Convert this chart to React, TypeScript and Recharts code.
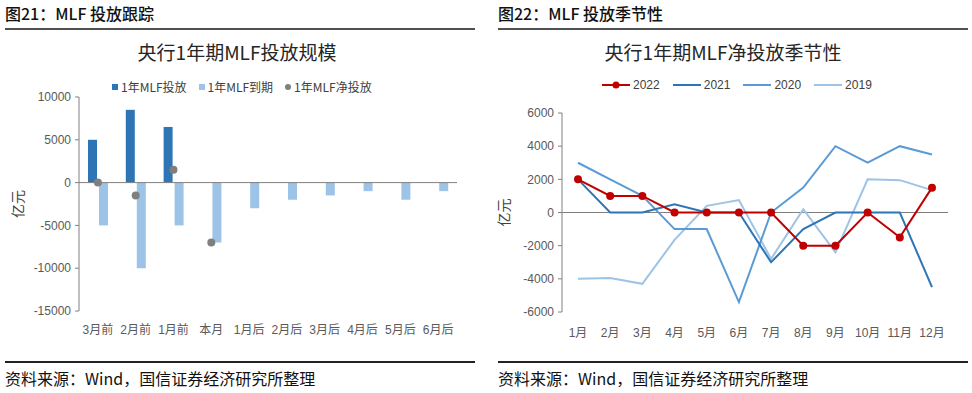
import React from "react";
import {
  ComposedChart,
  LineChart,
  Bar,
  Line,
  XAxis,
  YAxis,
  ReferenceLine,
  Label,
} from "recharts";

// left chart: MLF tracking
const trackCats = ["3月前", "2月前", "1月前", "本月", "1月后", "2月后", "3月后", "4月后", "5月后", "6月后"];
const issueVals = [5000, 8500, 6500, null, null, null, null, null, null, null];
const maturityVals = [-5000, -10000, -5000, -7000, -3000, -2000, -1500, -1000, -2000, -1000];
const netVals = [0, -1500, 1500, -7000, null, null, null, null, null, null];
const trackTicks = [10000, 5000, 0, -5000, -10000, -15000];

// right chart: seasonality
const months = ["1月", "2月", "3月", "4月", "5月", "6月", "7月", "8月", "9月", "10月", "11月", "12月"];
const net2022 = [2000, 1000, 1000, 0, 0, 0, 0, -2000, -2000, 0, -1500, 1500];
const net2021 = [2000, 0, 0, 500, 0, 0, -3000, -1000, 0, 0, 0, -4500];
const net2020 = [3000, 2000, 1000, -1000, -1000, -5400, 0, 1500, 4000, 3000, 4000, 3500];
const net2019 = [-4000, -3950, -4300, -1650, 400, 750, -2800, 200, -2400, 2000, 1950, 1350];
const seasonTicks = [6000, 4000, 2000, 0, -2000, -4000, -6000];

const FONT = "'Liberation Sans', 'Noto Sans CJK SC', sans-serif";
const CJK = "'Noto Sans CJK SC', sans-serif";

const C_ISSUE = "#2E75B6";
const C_MAT = "#9DC3E6";
const C_NET = "#7F7F7F";

const seasonSeries = [
  { key: "y2022", name: "2022", color: "#C00000", data: net2022, dot: true },
  { key: "y2021", name: "2021", color: "#2E75B6", data: net2021, dot: false },
  { key: "y2020", name: "2020", color: "#5B9BD5", data: net2020, dot: false },
  { key: "y2019", name: "2019", color: "#9DC3E6", data: net2019, dot: false },
];

const trackData = trackCats.map((c, i) => ({
  cat: c,
  issue: issueVals[i],
  maturity: maturityVals[i],
  net: netVals[i],
}));

const seasonData = months.map((m, i) => {
  const row: any = { month: m };
  seasonSeries.forEach((s) => (row[s.key] = s.data[i]));
  return row;
});

const tickStyle = { fill: "#595959", fontSize: 12, fontFamily: FONT };

function Panel({ left, inset, header, title, children }: any) {
  return (
    <div style={{ position: "absolute", left, top: 0, width: 486, height: 393 }}>
      <div
        style={{
          position: "absolute",
          left: inset,
          top: 2,
          fontSize: 16,
          fontWeight: 500,
          fontFamily: CJK,
          color: "#111",
          lineHeight: "22px",
          whiteSpace: "nowrap",
        }}
      >
        {header}
      </div>
      <div style={{ position: "absolute", left: inset, top: 28, width: 470, height: 2, background: "#505050" }} />
      <div
        style={{
          position: "absolute",
          left: 0,
          width: 474,
          top: 40,
          textAlign: "center",
          fontSize: 19,
          fontFamily: CJK,
          color: "#262626",
          lineHeight: "24px",
        }}
      >
        {title}
      </div>
      {children}
      <div style={{ position: "absolute", left: inset, top: 361, width: 470, height: 1.5, background: "#222" }} />
      <div
        style={{
          position: "absolute",
          left: inset,
          top: 367,
          fontSize: 16,
          fontFamily: CJK,
          color: "#111",
          lineHeight: "22px",
          whiteSpace: "nowrap",
        }}
      >
        资料来源：Wind，国信证券经济研究所整理
      </div>
    </div>
  );
}

function TrackLegend() {
  const items = [
    { name: "1年MLF投放", color: C_ISSUE, shape: "square" },
    { name: "1年MLF到期", color: C_MAT, shape: "square" },
    { name: "1年MLF净投放", color: C_NET, shape: "circle" },
  ];
  return (
    <div
      style={{
        position: "absolute",
        left: 112,
        top: 78,
        display: "flex",
        gap: 12,
        fontSize: 12,
        fontFamily: CJK,
        color: "#404040",
        whiteSpace: "nowrap",
      }}
    >
      {items.map((it) => (
        <div key={it.name} style={{ display: "flex", alignItems: "center" }}>
          <span
            style={{
              width: 6,
              height: 6,
              background: it.color,
              borderRadius: it.shape === "circle" ? 3 : 0,
              marginRight: 3,
              display: "inline-block",
            }}
          />
          {it.name}
        </div>
      ))}
    </div>
  );
}

function SeasonLegend() {
  return (
    <div
      style={{
        position: "absolute",
        left: 115,
        top: 78,
        display: "flex",
        gap: 12,
        fontSize: 12,
        fontFamily: FONT,
        color: "#404040",
        whiteSpace: "nowrap",
      }}
    >
      {seasonSeries.map((s) => (
        <div key={s.key} style={{ display: "flex", alignItems: "center" }}>
          <svg width={30} height={10} style={{ marginRight: 2 }}>
            <line x1={1} y1={5} x2={29} y2={5} stroke={s.color} strokeWidth={2} />
            {s.dot && <circle cx={15} cy={5} r={3.5} fill={s.color} />}
          </svg>
          {s.name}
        </div>
      ))}
    </div>
  );
}

export default function App() {
  return (
    <div style={{ position: "absolute", left: 0, top: 0, width: 972, height: 393, background: "#fff" }}>
      <Panel left={0} inset={5} header="图21：MLF 投放跟踪" title="央行1年期MLF投放规模">
        <TrackLegend />
        <div style={{ position: "absolute", left: 0, top: 0 }}>
          <ComposedChart
            width={486}
            height={346}
            data={trackData}
            margin={{ top: 97, right: 29, bottom: 5, left: 0 }}
            barSize={9}
            barGap={2}
          >
            <XAxis
              dataKey="cat"
              axisLine={false}
              tickLine={false}
              tickMargin={8}
              height={30}
              tick={tickStyle}
              interval={0}
            />
            <YAxis
              width={79}
              domain={[-15000, 10000]}
              ticks={trackTicks}
              interval={0}
              tick={tickStyle}
              tickSize={4}
              tickMargin={4}
              stroke="#808080"
            >
              <Label
                value="亿元"
                angle={-90}
                position="insideLeft"
                offset={18}
                style={{ fill: "#404040", fontSize: 14, fontFamily: CJK, textAnchor: "middle" }}
              />
            </YAxis>
            <ReferenceLine y={0} stroke="#808080" />
            <Bar dataKey="issue" name="1年MLF投放" fill={C_ISSUE} isAnimationActive={false} />
            <Bar dataKey="maturity" name="1年MLF到期" fill={C_MAT} isAnimationActive={false} />
            <Line
              dataKey="net"
              name="1年MLF净投放"
              stroke="none"
              dot={{ r: 4, fill: C_NET, stroke: C_NET, strokeWidth: 0 }}
              activeDot={false}
              isAnimationActive={false}
            />
          </ComposedChart>
        </div>
      </Panel>
      <Panel left={486} inset={12} header="图22：MLF 投放季节性" title="央行1年期MLF净投放季节性">
        <SeasonLegend />
        <div style={{ position: "absolute", left: 0, top: 0 }}>
          <LineChart
            width={486}
            height={347}
            data={seasonData}
            margin={{ top: 113, right: 24, bottom: 5, left: 0 }}
          >
            <XAxis
              dataKey="month"
              axisLine={false}
              tickLine={false}
              tickMargin={10}
              height={30}
              tick={tickStyle}
              interval={0}
              padding={{ left: 16, right: 16 }}
            />
            <YAxis
              width={76}
              domain={[-6000, 6000]}
              ticks={seasonTicks}
              interval={0}
              tick={tickStyle}
              tickSize={4}
              tickMargin={4}
              stroke="#808080"
            >
              <Label
                value="亿元"
                angle={-90}
                position="insideLeft"
                offset={18}
                style={{ fill: "#404040", fontSize: 14, fontFamily: CJK, textAnchor: "middle" }}
              />
            </YAxis>
            <ReferenceLine y={0} stroke="#808080" />
            {seasonSeries
              .slice()
              .reverse()
              .map((s) => (
                <Line
                  key={s.key}
                  dataKey={s.key}
                  name={s.name}
                  stroke={s.color}
                  strokeWidth={2}
                  dot={s.dot ? { r: 4, fill: s.color, stroke: s.color, strokeWidth: 0 } : false}
                  activeDot={false}
                  isAnimationActive={false}
                />
              ))}
          </LineChart>
        </div>
      </Panel>
    </div>
  );
}
